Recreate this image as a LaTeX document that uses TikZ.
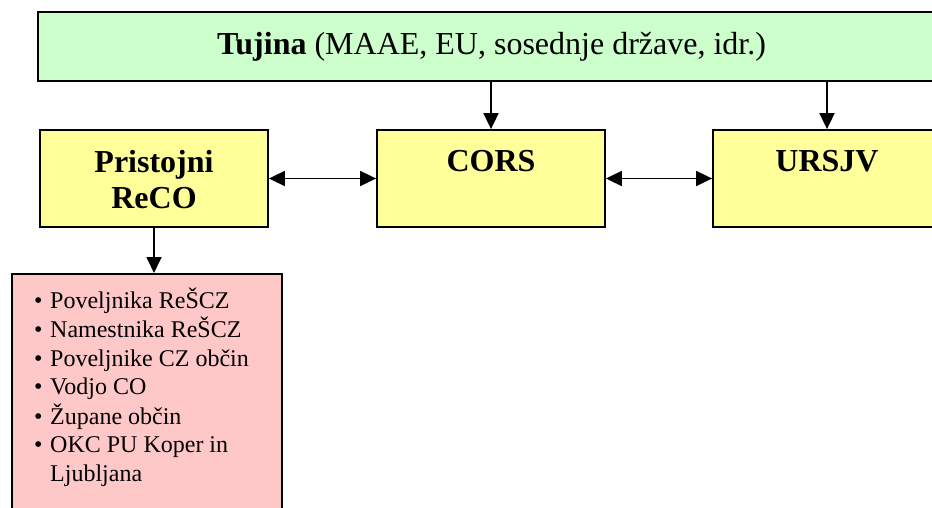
\documentclass[tikz,border=0pt]{standalone}
\usepackage{fontspec}
\setmainfont{Liberation Serif}
\usetikzlibrary{arrows.meta}
\definecolor{tgreen}{HTML}{CCFFCC}
\definecolor{tyellow}{HTML}{FFFF99}
\definecolor{tpink}{HTML}{FFC8C8}
\begin{document}
\begin{tikzpicture}[x=1pt,y=-1pt,
  box/.style={draw=black, line width=1.8pt, inner sep=0pt},
  boxlabel/.style={inner sep=0pt, align=center, anchor=north, font=\fontsize{32}{36}\selectfont\bfseries},
  tip/.tip={Triangle[length=16pt,width=15pt]},
  arr/.style={line width=1.8pt, -tip},
  darr/.style={line width=1.8pt, tip-tip}]
\useasboundingbox (0,0) rectangle (932,508);
\clip (0,0) rectangle (932,508);
% top box
\node[box, fill=tgreen, minimum width=907pt, minimum height=69pt, font=\fontsize{32}{36}\selectfont] (tujina) at (491.5,46.5) {\textbf{Tujina} (MAAE, EU, sosednje države, idr.)};
% middle boxes
\node[box, fill=tyellow, minimum width=228pt, minimum height=97pt] (reco) at (154,178.5) {};
\node[box, fill=tyellow, minimum width=228pt, minimum height=97pt] (cors) at (491,178.5) {};
\node[box, fill=tyellow, minimum width=228pt, minimum height=97pt] (ursjv) at (827,178.5) {};
\node[boxlabel] (recoL) at (154,150) {Pristojni\\ReCO};
\node[boxlabel] (corsL) at (491,150) {CORS};
\node[boxlabel] (ursjvL) at (827,150) {URSJV};
% bottom list box
\node[box, fill=tpink, anchor=north west, minimum width=270pt, minimum height=260pt] (list) at (11,273) {};
\node[inner sep=0pt, anchor=base west, font=\fontsize{24}{28.7}\selectfont] (items) at (34,308.3) {%
\begin{tabular}[t]{@{}l@{}l@{}}
\makebox[16pt][l]{\textbullet} & Poveljnika ReŠCZ\\
\makebox[16pt][l]{\textbullet} & Namestnika ReŠCZ\\
\makebox[16pt][l]{\textbullet} & Poveljnike CZ občin\\
\makebox[16pt][l]{\textbullet} & Vodjo CO\\
\makebox[16pt][l]{\textbullet} & Župane občin\\
\makebox[16pt][l]{\textbullet} & OKC PU Koper in\\
 & Ljubljana
\end{tabular}};
% connectors
\draw[arr] (cors.north |- tujina.south) -- (cors.north);
\draw[arr] (ursjv.north |- tujina.south) -- (ursjv.north);
\draw[darr] (reco.east) -- (cors.west);
\draw[darr] (cors.east) -- (ursjv.west);
\draw[arr] (reco.south) -- (reco.south |- list.north);
\end{tikzpicture}
\end{document}
